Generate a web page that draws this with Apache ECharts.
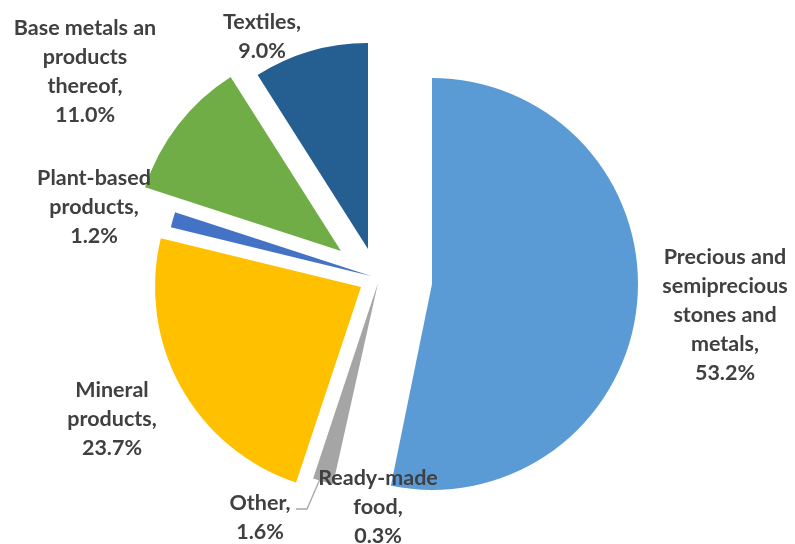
<!DOCTYPE html>
<html>
<head>
<meta charset="utf-8">
<script src="https://cdn.jsdelivr.net/npm/echarts@6/dist/echarts.min.js"></script>
<style>
  html, body { margin: 0; padding: 0; background: #ffffff; }
  #chart { width: 795px; height: 544px; }
</style>
</head>
<body>
<div id="chart"></div>
<script>
// Export structure by product group, share of total (%)
const categories = [
  'Precious and\nsemiprecious\nstones and\nmetals',
  'Ready-made\nfood',
  'Other',
  'Mineral\nproducts',
  'Plant-based\nproducts',
  'Base metals an\nproducts\nthereof',
  'Textiles'
];
const shares = [53.2, 0.3, 1.6, 23.7, 1.2, 11.0, 9.0];

// Slice fills (Ready-made food is drawn without a fill)
const colors = ['#5B9BD5', 'rgba(0,0,0,0)', '#A5A5A5', '#FFC000', '#4472C4', '#70AD47', '#255E91'];

// Each slice is pulled out from the pie on its own, so each gets its own centre
const sliceCentres = [[432, 284], [384, 280], [378, 283], [361, 287], [371, 276], [341, 251], [368, 249]];
const labelCentres = [[725, 315], [378, 507], [260, 518], [112, 419], [94, 207], [85, 72], [262, 37]];
const RADIUS = 206;

const chart = echarts.init(document.getElementById('chart'), null, { renderer: 'canvas' });

const series = categories.map((_, i) => ({
  type: 'pie',
  center: sliceCentres[i],
  radius: RADIUS,
  startAngle: 90,
  clockwise: true,
  avoidLabelOverlap: false,
  emphasis: { disabled: true },
  silent: true,
  data: categories.map((name, j) => ({
    name: name,
    value: shares[j],
    itemStyle: { color: j === i ? colors[j] : 'rgba(0,0,0,0)', borderWidth: 0 },
    label: { show: j === i },
    labelLine: { show: j === i && i === 2 }
  })),
  label: {
    position: 'outside',
    formatter: p => p.name + ',\n' + p.value.toFixed(1) + '%',
    fontFamily: 'Lato',
    fontWeight: 'bold',
    fontSize: 21.5,
    lineHeight: 29,
    color: '#404040',
    align: 'center'
  },
  labelLine: {
    lineStyle: { color: '#A6A6A6', width: 1.3 }
  },
  labelLayout: p => {
    const c = labelCentres[p.dataIndex];
    const out = { x: c[0], y: c[1], align: 'center', verticalAlign: 'middle' };
    if (p.dataIndex === 2) {
      out.labelLinePoints = [[320, 479], [307, 509], [296, 509]];
    }
    return out;
  }
}));

chart.setOption({
  animation: false,
  backgroundColor: '#ffffff',
  series: series
});
</script>
</body>
</html>
